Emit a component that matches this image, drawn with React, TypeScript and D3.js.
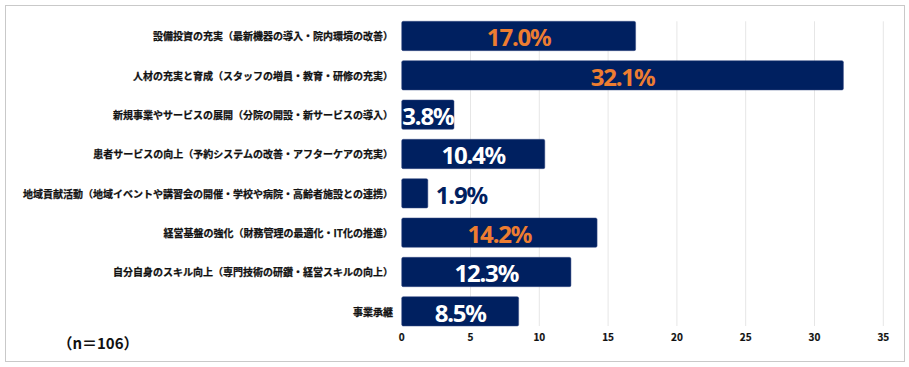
import { useEffect } from "react";
import * as d3 from "d3";

// survey items (top to bottom) and share in %
const categories = [
  "設備投資の充実（最新機器の導入・院内環境の改善）",
  "人材の充実と育成（スタッフの増員・教育・研修の充実）",
  "新規事業やサービスの展開（分院の開設・新サービスの導入）",
  "患者サービスの向上（予約システムの改善・アフターケアの充実）",
  "地域貢献活動（地域イベントや講習会の開催・学校や病院・高齢者施設との連携）",
  "経営基盤の強化（財務管理の最適化・IT化の推進）",
  "自分自身のスキル向上（専門技術の研鑽・経営スキルの向上）",
  "事業承継",
];
const values = [17.0, 32.1, 3.8, 10.4, 1.9, 14.2, 12.3, 8.5];
const xTicks = [0, 5, 10, 15, 20, 25, 30, 35];
const sampleNote = "（n＝106）";

const W = 909;
const H = 367;
const NAVY = "#002060";
const ORANGE = "#ED7D31";
const JP = "'Noto Sans CJK JP', 'Noto Sans', sans-serif";

export default function App() {
  useEffect(() => {
    document.body.style.margin = "0";
  }, []);

  const x = d3.scaleLinear().domain([0, 35]).range([401.7, 883.3]);
  const y = d3
    .scaleBand<number>()
    .domain(d3.range(categories.length))
    .range([16.3, 331])
    .paddingInner(0.254)
    .paddingOuter(0.127);

  // the three largest shares get the orange label
  const top3 = values
    .map((v, i) => ({ v, i }))
    .sort((a, b) => b.v - a.v)
    .slice(0, 3)
    .map((d) => d.i);

  return (
    <svg width={W} height={H} style={{ display: "block", background: "#fff" }}>
      <rect x={5.5} y={5.5} width={899} height={356} fill="#fff" stroke="#c9c9c9" />
      {/* vertical gridlines */}
      {xTicks.slice(1).map((t) => (
        <line
          key={t}
          x1={x(t)}
          x2={x(t)}
          y1={y(0)!}
          y2={y(categories.length - 1)! + y.bandwidth()}
          stroke="#e6e6e6"
          strokeWidth={1}
        />
      ))}
      {/* bars */}
      {values.map((v, i) => (
        <rect
          key={i}
          x={x(0)}
          y={y(i)}
          width={x(v) - x(0)}
          height={y.bandwidth()}
          rx={1.5}
          fill={NAVY}
          stroke="#3a4f86"
          strokeWidth={0.5}
        />
      ))}
      {/* category labels */}
      {categories.map((c, i) => (
        <text
          key={c}
          x={393}
          y={y(i)! + y.bandwidth() / 2}
          textAnchor="end"
          dominantBaseline="central"
          fontFamily={JP}
          fontWeight={700}
          fontSize={10}
          fill="#111"
          stroke="#111"
          strokeWidth={0.25}
        >
          {c}
        </text>
      ))}
      {/* value labels */}
      {values.map((v, i) => {
        const w = x(v) - x(0);
        const outside = w < 40;
        const color = top3.includes(i) ? ORANGE : outside ? NAVY : "#fff";
        return (
          <text
            key={i}
            x={outside ? x(v) + 8 : x(0) + w / 2}
            y={y(i)! + y.bandwidth() / 2 + 1}
            textAnchor={outside ? "start" : "middle"}
            dominantBaseline="central"
            fontFamily="'Noto Sans', sans-serif"
            fontWeight={700}
            fontSize={24}
            letterSpacing={-1.2}
            fill={color}
          >
            {v.toFixed(1)}%
          </text>
        );
      })}
      {/* x axis tick labels */}
      {xTicks.map((t) => (
        <text
          key={t}
          x={x(t)}
          y={336}
          textAnchor="middle"
          dominantBaseline="central"
          fontFamily={JP}
          fontWeight={700}
          fontSize={10}
          fill="#111"
          stroke="#111"
          strokeWidth={0.2}
        >
          {t}
        </text>
      ))}
      <text
        x={98}
        y={342}
        textAnchor="middle"
        dominantBaseline="central"
        fontFamily={JP}
        fontWeight={700}
        fontSize={15}
        fill="#111"
      >
        {sampleNote}
      </text>
    </svg>
  );
}
